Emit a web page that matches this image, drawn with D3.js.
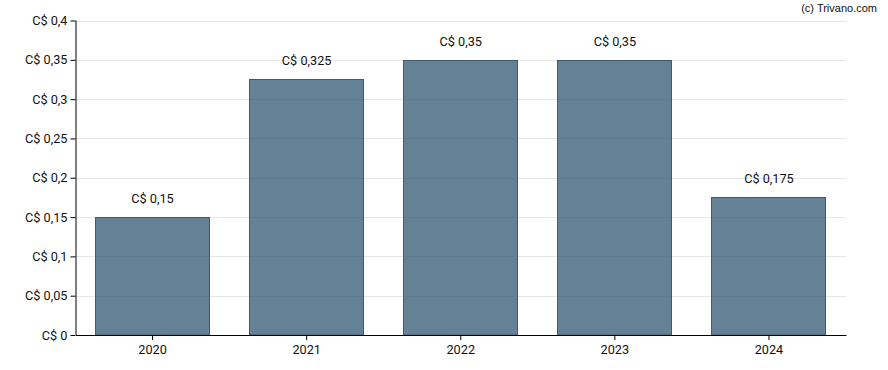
<!DOCTYPE html>
<html><head><meta charset="utf-8">
<script src="https://cdn.jsdelivr.net/npm/d3@7"></script>
<style>body{margin:0;background:#fff}svg{display:block}</style>
</head><body>
<svg id="c" width="888" height="370"></svg>
<script>
const years = ["2020","2021","2022","2023","2024"];
const values = [0.15, 0.325, 0.35, 0.35, 0.175];
const yTicks = [0,0.05,0.1,0.15,0.2,0.25,0.3,0.35,0.4];
const fmt = v => "C$ " + String(v).replace(".", ",");

const svg = d3.select("#c");
const L = 75.5, R = 846, T = 20.5, B = 335;
const FS = 12.7;
const x = d3.scaleBand().domain(years).range([L, R]).paddingInner(0.26).paddingOuter(0.13);
const y = d3.scaleLinear().domain([0, 0.4]).range([B, T]);

svg.append("g").selectAll("line").data(yTicks.slice(1)).join("line")
  .attr("x1", L).attr("x2", R).attr("y1", d => Math.round(y(d))+0.5).attr("y2", d => Math.round(y(d))+0.5)
  .attr("stroke", "#e6e6e6").attr("stroke-width", 1);

svg.append("g").selectAll("rect").data(values).join("rect")
  .attr("x", (d,i) => Math.floor(x(years[i]))+0.5)
  .attr("y", d => Math.round(y(d))+0.5)
  .attr("width", Math.round(x.bandwidth()))
  .attr("height", d => B - Math.round(y(d)) - 0.5)
  .attr("fill", "rgb(62,98,122)").attr("fill-opacity", 0.8)
  .attr("stroke", "#3f5b70").attr("stroke-width", 1);

svg.append("g").selectAll("text").data(values).join("text")
  .attr("x", (d,i) => x(years[i]) + x.bandwidth()/2)
  .attr("y", d => y(d) - 14)
  .attr("text-anchor", "middle")
  .attr("font-family", "Roboto, sans-serif").attr("font-size", FS).attr("fill", "#111")
  .text(d => fmt(d));

const ya = d3.axisLeft(y).tickValues(yTicks).tickSize(5).tickPadding(3).tickFormat(fmt);
const gy = svg.append("g").attr("transform", `translate(${L},0)`).call(ya);
const xa = d3.axisBottom(x).tickSize(5).tickPadding(5).tickSizeOuter(0);
const gx = svg.append("g").attr("transform", `translate(0,${B})`).call(xa);
[gy, gx].forEach(g => {
  g.selectAll("path,line").attr("stroke", "#000");
  g.selectAll("text").attr("font-family", "Roboto, sans-serif").attr("font-size", FS).attr("fill", "#111");
});
gy.select(".domain").attr("d", `M0.5,${T}V${B}`);

svg.append("text").attr("x", 877).attr("y", 12).attr("text-anchor", "end")
  .attr("font-family", "'Liberation Sans', Arial, sans-serif").attr("font-size", 11).attr("fill", "#111")
  .text("(c) Trivano.com");
</script>
</body></html>
